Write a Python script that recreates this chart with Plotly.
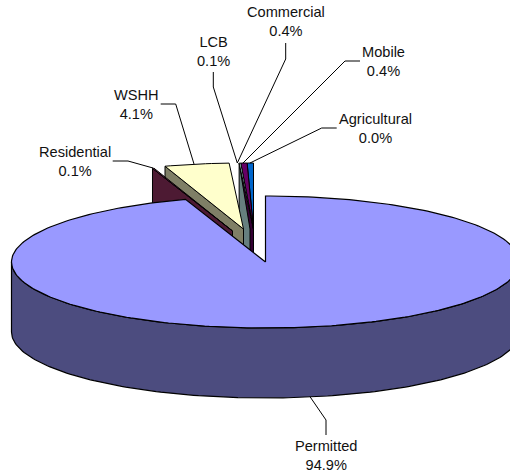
import numpy as np
import plotly.graph_objects as go

# data (clockwise from 12 o'clock)
categories = ["Permitted", "Residential", "WSHH", "LCB", "Commercial", "Mobile", "Agricultural"]
shares = [94.9, 0.1, 4.1, 0.1, 0.4, 0.4, 0.0]
share_labels = ["94.9%", "0.1%", "4.1%", "0.1%", "0.4%", "0.4%", "0.0%"]

# styling
top_colors = ["#9999FF", "#993366", "#FFFFCC", "#CCFFFF", "#660066", "#0066CC", "#CCCCFF"]
wall_colors = ["#4C4C7F", "#4D1A33", "#7F7F66", "#667F7F", "#330033", "#003366", "#66667F"]
shift_x = [0, -33, -22, -12, -12, -12, -12]
shift_y = [0, -31, -33, -33, -33, -33, -33]
wall_skew = [0, 0, 0, -3.5, 0, 0, 0]
CX, CY, RX, RY, DEPTH = 265.5, 262, 254, 66, 70
label_x = [326, 75, 136, 213, 285.5, 383, 375]
label_y = [455, 161, 104, 51, 21, 61, 128]
leader_x = [[310, 326, 326], [112.7, 128, 153], [160.7, 175.7, 194], [213.3, 213.3, 237.3],
            [285.7, 285.7, 237.3], [360, 345, 243], [336.7, 321.7, 250]]
leader_y = [[396.7, 420, 435], [161, 161, 168], [104, 104, 164], [72, 87, 163],
            [43, 59, 163], [61, 61, 163], [128, 128, 163]]

fig = go.Figure()


def poly(xs, ys, color, width=1.0):
    fig.add_trace(go.Scatter(x=xs, y=ys, mode="lines", fill="toself", fillcolor=color,
                             line=dict(color="black", width=width), hoverinfo="skip"))


def rim(a0, a1, n):
    t = np.radians(np.linspace(a0, a1, n))
    return RX * np.sin(t), -RY * np.cos(t)


edges = np.concatenate([[0], np.cumsum(shares)]) / sum(shares) * 360

# exploded back slices, drawn from right to left so the nearer cut faces overlap
for i in range(len(categories) - 1, 0, -1):
    ax, ay = CX + shift_x[i], CY + shift_y[i]
    rx, ry = rim(edges[i], edges[i + 1], 12)
    # top face first for the thin LCB so its cut face stays visible, otherwise after
    wx0 = ax + wall_skew[i]
    poly([wx0, ax + rx[0], ax + rx[0], wx0, wx0],
         [ay, ay + ry[0], ay + ry[0] + DEPTH, ay + DEPTH, ay], wall_colors[i])
    poly(np.r_[ax, ax + rx, ax], np.r_[ay, ay + ry, ay], top_colors[i])

# main slice: front wall then top face
wx, wy = rim(90, 270, 160)
poly(np.r_[CX + wx, (CX + wx)[::-1], CX + wx[0]],
     np.r_[CY + wy, (CY + wy + DEPTH)[::-1], CY + wy[0]], wall_colors[0], 1.2)
tx, ty = rim(edges[0], edges[1], 320)
poly(np.r_[CX, CX + tx, CX], np.r_[CY, CY + ty, CY], top_colors[0], 1.2)

# leader lines and labels
for lx, ly in zip(leader_x, leader_y):
    fig.add_trace(go.Scatter(x=lx, y=ly, mode="lines", line=dict(color="black", width=1), hoverinfo="skip"))
for name, share, x, y in zip(categories, share_labels, label_x, label_y):
    fig.add_annotation(x=x, y=y, xref="x", yref="y", text=f"{name}<br>{share}", showarrow=False,
                       align="center", font=dict(family="Liberation Sans", size=14.6, color="#111111"))

fig.update_layout(width=510, height=472, margin=dict(l=0, r=0, t=0, b=0), showlegend=False,
                  paper_bgcolor="white", plot_bgcolor="white",
                  xaxis=dict(range=[0, 510], visible=False, fixedrange=True),
                  yaxis=dict(range=[472, 0], visible=False, fixedrange=True))
fig.write_html("out.html", config={"displayModeBar": False},
               post_script="document.body.style.margin='0';document.documentElement.style.overflow='hidden';")
